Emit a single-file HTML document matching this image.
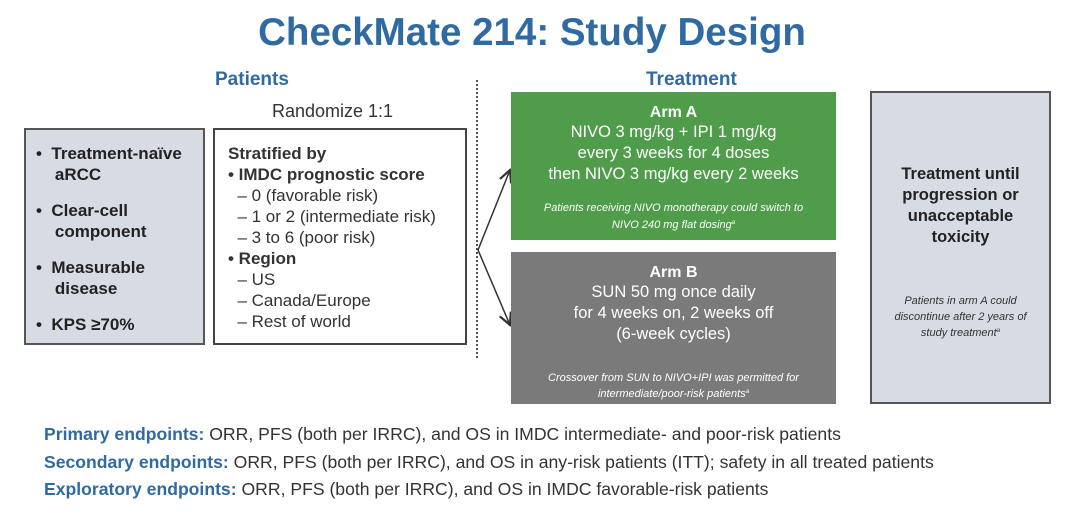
<!DOCTYPE html>
<html><head><style>
body{margin:0;width:1080px;height:520px;background:#fff;position:relative;font-family:"Liberation Sans",Arial,sans-serif;overflow:hidden}
.a{position:absolute}
.t{color:#2f6aa3;font-weight:bold}
.c{text-align:center}
sup{font-size:6px;line-height:0;vertical-align:4px}
</style></head><body>
<div class="a t c" style="left:0;width:1064px;top:11px;font-size:38.5px;">CheckMate 214: Study Design</div>
<div class="a t" style="left:215px;top:69px;font-size:19px;">Patients</div>
<div class="a t" style="left:646px;top:69px;font-size:19px;">Treatment</div>
<div class="a" style="left:272px;top:101px;font-size:18px;color:#333">Randomize 1:1</div>
<div class="a" style="left:476px;top:80px;height:278px;border-left:2px dotted #555"></div>

<div class="a" style="left:24px;top:128px;width:177px;height:213px;background:#d6dbe4;border:2px solid #555;"></div>
<div class="a" style="left:36px;top:143px;font-size:17px;font-weight:bold;color:#222;line-height:21px">
<div>•&nbsp; Treatment-naïve<br>&nbsp;&nbsp;&nbsp; aRCC</div>
<div style="margin-top:15px">•&nbsp; Clear-cell<br>&nbsp;&nbsp;&nbsp; component</div>
<div style="margin-top:15px">•&nbsp; Measurable<br>&nbsp;&nbsp;&nbsp; disease</div>
<div style="margin-top:15px">•&nbsp; KPS ≥70%</div>
</div>

<div class="a" style="left:213px;top:128px;width:250px;height:213px;border:2px solid #444;background:#fff"></div>
<div class="a" style="left:228px;top:143px;font-size:17px;color:#333;line-height:21px;white-space:nowrap">
<b>Stratified by</b><br>
<b>• IMDC prognostic score</b><br>
&nbsp;&nbsp;– 0 (favorable risk)<br>
&nbsp;&nbsp;– 1 or 2 (intermediate risk)<br>
&nbsp;&nbsp;– 3 to 6 (poor risk)<br>
<b>• Region</b><br>
&nbsp;&nbsp;– US<br>
&nbsp;&nbsp;– Canada/Europe<br>
&nbsp;&nbsp;– Rest of world
</div>

<svg class="a" style="left:0;top:0" width="1080" height="520">
<defs><marker id="m" markerWidth="10" markerHeight="10" refX="9" refY="5" orient="auto"><path d="M1,1 L9,5 L1,9" fill="none" stroke="#333" stroke-width="1.5"/></marker></defs>
<line x1="478" y1="250" x2="510" y2="170" stroke="#333" stroke-width="1.5" marker-end="url(#m)"/>
<line x1="478" y1="250" x2="510" y2="325" stroke="#333" stroke-width="1.5" marker-end="url(#m)"/>
</svg>

<div class="a c" style="left:511px;top:92px;width:325px;height:148px;background:#4f9d4a;color:#fff;">
<div style="font-size:16px;font-weight:bold;margin-top:12px">Arm A</div>
<div style="font-size:16.5px;line-height:21px">NIVO 3 mg/kg + IPI 1 mg/kg<br>every 3 weeks for 4 doses<br>then NIVO 3 mg/kg every 2 weeks</div>
<div style="font-size:11px;font-style:italic;margin-top:15px;line-height:17px">Patients receiving NIVO monotherapy could switch to<br>NIVO 240 mg flat dosing<sup>a</sup></div>
</div>
<div class="a c" style="left:511px;top:252px;width:325px;height:152px;background:#7a7a7a;color:#fff;">
<div style="font-size:16px;font-weight:bold;margin-top:12px">Arm B</div>
<div style="font-size:16.5px;line-height:21px">SUN 50 mg once daily<br>for 4 weeks on, 2 weeks off<br>(6-week cycles)</div>
<div style="font-size:11px;font-style:italic;margin-top:25px;line-height:16px">Crossover from SUN to NIVO+IPI was permitted for<br>intermediate/poor-risk patients<sup>a</sup></div>
</div>

<div class="a c" style="left:870px;top:91px;width:177px;height:309px;background:#d6dbe4;border:2px solid #555;color:#222">
<div style="font-size:16.5px;font-weight:bold;line-height:21px;margin-top:71px">Treatment until<br>progression or<br>unacceptable<br>toxicity</div>
<div style="font-size:11px;font-style:italic;line-height:16px;margin-top:45px;color:#333">Patients in arm A could<br>discontinue after 2 years of<br>study treatment<sup>a</sup></div>
</div>

<div class="a" style="left:44px;top:421px;font-size:17.6px;color:#333;line-height:27.5px;white-space:nowrap">
<span class="t">Primary endpoints:</span> ORR, PFS (both per IRRC), and OS in IMDC intermediate- and poor-risk patients<br>
<span class="t">Secondary endpoints:</span> ORR, PFS (both per IRRC), and OS in any-risk patients (ITT); safety in all treated patients<br>
<span class="t">Exploratory endpoints:</span> ORR, PFS (both per IRRC), and OS in IMDC favorable-risk patients
</div>
</body></html>
